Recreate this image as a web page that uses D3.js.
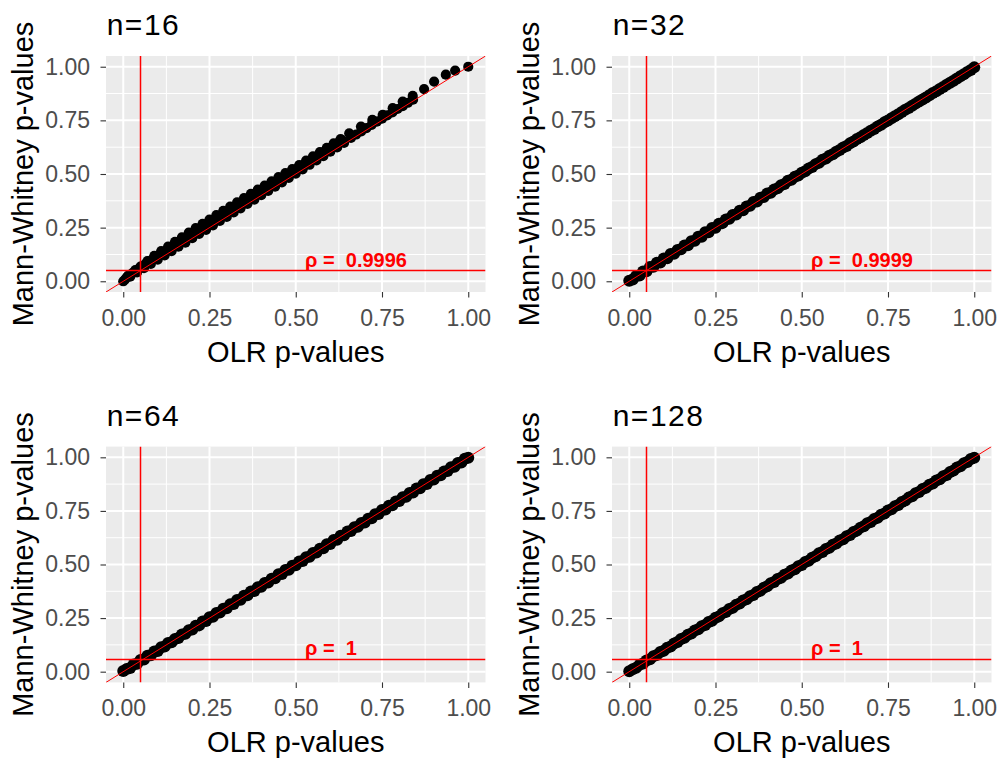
<!DOCTYPE html>
<html>
<head>
<meta charset="utf-8">
<script src="https://cdn.jsdelivr.net/npm/d3@7"></script>
<style>
  html, body { margin: 0; padding: 0; background: #fff; }
  svg { display: block; }
</style>
</head>
<body>
<svg id="chart" width="1001" height="760"></svg>
<script>
// ---------------- data ----------------
const panelTitles = ["n=16", "n=32", "n=64", "n=128"];
const rhoLabels = ["ρ =  0.9996", "ρ =  0.9999", "ρ =  1", "ρ =  1"];
const tickValues = [0, 0.25, 0.5, 0.75, 1];
const tickLabels = ["0.00", "0.25", "0.50", "0.75", "1.00"];
const minorBreaks = [0.125, 0.375, 0.625, 0.875];
const xTitle = "OLR p-values";
const yTitle = "Mann-Whitney p-values";
const cutoffX = [0.05, 0.05, 0.05, 0.05];
const cutoffY = [0.05, 0.05, 0.057, 0.057];

// n = 16 (OLR p-values, Mann-Whitney p-values)
const olr16 = [
  0.00,0.01,0.02,0.03,0.04,0.05,0.06,0.07,0.08,0.09,
  0.10,0.11,0.12,0.13,0.14,0.15,0.16,0.17,0.18,0.19,
  0.20,0.21,0.22,0.23,0.24,0.25,0.26,0.27,0.28,0.29,
  0.30,0.31,0.32,0.33,0.34,0.35,0.36,0.37,0.38,0.39,
  0.40,0.41,0.42,0.43,0.44,0.45,0.46,0.47,0.48,0.49,
  0.50,0.51,0.52,0.53,0.54,0.55,0.56,0.57,0.58,0.59,
  0.60,0.61,0.62,0.63,0.64,
  0.005,0.015,0.025,0.035,0.045,0.055,0.065,0.075,0.085,0.095,
  0.105,0.115,0.125,0.135,0.145,0.155,0.165,0.175,0.185,0.195,
  0.205,0.215,0.225,0.235,0.245,0.255,0.265,0.275,0.285,0.295,
  0.305,0.315,0.325,0.335,0.345,0.355,0.365,0.375,0.385,0.395,
  0.405,0.415,0.425,0.435,0.445,0.455,0.465,0.475,0.485,0.495,
  0.505,0.515,0.525,0.535,0.545,0.555,0.565,0.575,0.585,0.595,
  0.605,0.615,0.625,0.635,
  0.66,0.675,0.69,0.705,0.72,0.735,0.75,0.765,0.78,0.795,0.81,0.825,0.84,
  0.655,0.689,0.722,0.752,0.781,0.810,0.839,0.872,0.901,0.935,0.962,1.000
];
const mw16 = [
  0.000,0.018,0.021,0.042,0.041,0.068,0.061,0.094,0.081,0.118,
  0.101,0.141,0.121,0.162,0.140,0.184,0.161,0.205,0.180,0.227,
  0.201,0.248,0.221,0.268,0.240,0.288,0.261,0.308,0.281,0.328,
  0.300,0.348,0.321,0.368,0.340,0.388,0.361,0.407,0.381,0.427,
  0.401,0.446,0.421,0.466,0.441,0.485,0.461,0.504,0.482,0.523,
  0.502,0.542,0.522,0.562,0.543,0.582,0.563,0.602,0.583,0.622,
  0.604,0.643,0.624,0.663,0.645,
  0.008,0.027,0.036,0.052,0.058,0.071,0.081,0.094,0.102,0.114,
  0.124,0.135,0.144,0.155,0.165,0.175,0.185,0.196,0.205,0.216,
  0.226,0.236,0.246,0.256,0.266,0.276,0.286,0.296,0.306,0.316,
  0.326,0.336,0.346,0.356,0.366,0.376,0.386,0.396,0.406,0.416,
  0.426,0.436,0.446,0.456,0.466,0.476,0.486,0.496,0.506,0.516,
  0.526,0.536,0.546,0.556,0.566,0.576,0.586,0.596,0.606,0.616,
  0.626,0.636,0.647,0.657,
  0.668,0.684,0.699,0.714,0.729,0.744,0.758,0.773,0.787,0.803,0.816,0.832,0.846,
  0.690,0.721,0.752,0.776,0.807,0.838,0.864,0.896,0.931,0.963,0.982,1.000
];

// n = 32, 64, 128 share the OLR p-value grid
const olrP = [
  0.00,0.01,0.02,0.03,0.04,0.05,0.06,0.07,0.08,0.09,
  0.10,0.11,0.12,0.13,0.14,0.15,0.16,0.17,0.18,0.19,
  0.20,0.21,0.22,0.23,0.24,0.25,0.26,0.27,0.28,0.29,
  0.30,0.31,0.32,0.33,0.34,0.35,0.36,0.37,0.38,0.39,
  0.40,0.41,0.42,0.43,0.44,0.45,0.46,0.47,0.48,0.49,
  0.50,0.51,0.52,0.53,0.54,0.55,0.56,0.57,0.58,0.59,
  0.60,0.61,0.62,0.63,0.64,0.65,0.66,0.67,0.68,0.69,
  0.70,0.71,0.72,0.73,0.74,0.75,0.76,0.77,0.78,0.79,
  0.80,0.81,0.82,0.83,0.84,0.85,0.86,0.87,0.88,0.89,
  0.90,0.91,0.92,0.93,0.94,0.95,0.96,0.97,0.98,0.99,
  1.00
];
const mw32 = [
  0.002,0.008,0.025,0.027,0.046,0.047,0.066,0.068,0.086,0.088,
  0.106,0.107,0.127,0.128,0.146,0.149,0.167,0.168,0.187,0.189,
  0.208,0.208,0.228,0.229,0.248,0.250,0.268,0.271,0.288,0.291,
  0.309,0.311,0.329,0.331,0.349,0.352,0.369,0.372,0.389,0.393,
  0.409,0.413,0.428,0.433,0.448,0.453,0.468,0.473,0.487,0.493,
  0.506,0.513,0.526,0.533,0.546,0.552,0.566,0.572,0.585,0.592,
  0.604,0.612,0.624,0.631,0.643,0.651,0.663,0.671,0.682,0.691,
  0.702,0.710,0.721,0.730,0.741,0.749,0.760,0.769,0.779,0.789,
  0.799,0.808,0.818,0.828,0.838,0.847,0.857,0.867,0.877,0.886,
  0.896,0.906,0.916,0.925,0.935,0.945,0.956,0.965,0.976,0.985,
  0.997
];
const mw64 = [
  0.003,0.012,0.017,0.034,0.037,0.054,0.057,0.074,0.077,0.094,
  0.097,0.114,0.117,0.134,0.137,0.153,0.157,0.174,0.177,0.193,
  0.197,0.214,0.216,0.234,0.236,0.254,0.256,0.274,0.276,0.294,
  0.296,0.314,0.316,0.334,0.336,0.354,0.356,0.374,0.376,0.394,
  0.396,0.414,0.416,0.434,0.436,0.454,0.456,0.474,0.476,0.494,
  0.496,0.514,0.516,0.534,0.536,0.554,0.556,0.574,0.576,0.594,
  0.596,0.614,0.616,0.634,0.636,0.654,0.656,0.674,0.676,0.694,
  0.696,0.714,0.716,0.734,0.736,0.754,0.756,0.774,0.776,0.794,
  0.796,0.814,0.816,0.834,0.836,0.854,0.856,0.874,0.876,0.894,
  0.896,0.914,0.916,0.934,0.936,0.954,0.956,0.974,0.976,0.993,
  0.998
];
const mw128 = [
  0.002,0.011,0.018,0.032,0.038,0.052,0.058,0.072,0.078,0.092,
  0.098,0.112,0.118,0.132,0.138,0.152,0.158,0.172,0.178,0.192,
  0.198,0.212,0.218,0.232,0.238,0.252,0.258,0.272,0.278,0.292,
  0.298,0.312,0.318,0.332,0.338,0.352,0.358,0.372,0.378,0.392,
  0.398,0.412,0.418,0.432,0.438,0.452,0.458,0.472,0.478,0.492,
  0.498,0.512,0.518,0.532,0.538,0.552,0.558,0.572,0.578,0.592,
  0.598,0.612,0.618,0.632,0.638,0.652,0.658,0.672,0.678,0.692,
  0.698,0.712,0.718,0.732,0.738,0.752,0.758,0.772,0.778,0.792,
  0.798,0.812,0.818,0.832,0.838,0.852,0.858,0.872,0.878,0.892,
  0.898,0.912,0.918,0.932,0.938,0.952,0.958,0.972,0.978,0.992,
  0.998
];

// ---------------- drawing ----------------
const FONT = "'Liberation Sans', Arial, Helvetica, sans-serif";
const svg = d3.select("#chart");
svg.append("rect").attr("width", 1001).attr("height", 760).attr("fill", "#ffffff");

const defs = svg.append("defs");
defs.append("filter").attr("id", "soft").attr("x", "-5%").attr("y", "-5%")
  .attr("width", "110%").attr("height", "110%")
  .append("feGaussianBlur").attr("stdDeviation", 0.6);

const layout = [
  { left: 106, right: 485.5, top: 56, bottom: 292 },
  { left: 612, right: 991.5, top: 56, bottom: 292 },
  { left: 106, right: 485.5, top: 446.6, bottom: 682.4 },
  { left: 612, right: 991.5, top: 446.6, bottom: 682.4 }
];
const panels = [
  { xs: olr16, ys: mw16, r: 5.1 },
  { xs: olrP, ys: mw32, r: 6 },
  { xs: olrP, ys: mw64, r: 6 },
  { xs: olrP, ys: mw128, r: 6 }
];
const rhoPos = [[0.527, 0.067], [0.527, 0.067], [0.527, 0.076], [0.527, 0.076]];

panels.forEach((p, i) => {
  const L = layout[i];
  const x = d3.scaleLinear().domain([-0.05, 1.05]).range([L.left, L.right]);
  const y = d3.scaleLinear().domain([-0.05, 1.05]).range([L.bottom, L.top]);
  const g = svg.append("g");

  const clipId = "clip" + i;
  defs.append("clipPath").attr("id", clipId)
    .append("rect").attr("x", L.left).attr("y", L.top)
    .attr("width", L.right - L.left).attr("height", L.bottom - L.top);

  // panel background
  g.append("rect").attr("x", L.left).attr("y", L.top)
    .attr("width", L.right - L.left).attr("height", L.bottom - L.top)
    .attr("fill", "#EBEBEB");

  // grid lines
  const grid = g.append("g");
  minorBreaks.forEach(v => {
    grid.append("line").attr("x1", x(v)).attr("x2", x(v)).attr("y1", L.top).attr("y2", L.bottom)
      .attr("stroke", "#fff").attr("stroke-width", 1);
    grid.append("line").attr("y1", y(v)).attr("y2", y(v)).attr("x1", L.left).attr("x2", L.right)
      .attr("stroke", "#fff").attr("stroke-width", 1);
  });
  tickValues.forEach(v => {
    grid.append("line").attr("x1", x(v)).attr("x2", x(v)).attr("y1", L.top).attr("y2", L.bottom)
      .attr("stroke", "#fff").attr("stroke-width", 2);
    grid.append("line").attr("y1", y(v)).attr("y2", y(v)).attr("x1", L.left).attr("x2", L.right)
      .attr("stroke", "#fff").attr("stroke-width", 2);
  });

  // points
  const pts = p.xs.map((v, k) => ({ x: v, y: p.ys[k] }));
  g.append("g").attr("clip-path", `url(#${clipId})`)
    .append("g").attr("filter", "url(#soft)")
    .selectAll("circle").data(pts).join("circle")
    .attr("cx", d => x(d.x)).attr("cy", d => y(d.y)).attr("r", p.r)
    .attr("fill", "#000");

  // reference lines
  const ref = g.append("g").attr("clip-path", `url(#${clipId})`);
  ref.append("line").attr("x1", x(cutoffX[i])).attr("x2", x(cutoffX[i]))
    .attr("y1", L.top).attr("y2", L.bottom).attr("stroke", "#FF0000").attr("stroke-width", 1.5);
  ref.append("line").attr("x1", L.left).attr("x2", L.right)
    .attr("y1", y(cutoffY[i])).attr("y2", y(cutoffY[i])).attr("stroke", "#FF0000").attr("stroke-width", 1.5);
  ref.append("line").attr("x1", x(-0.05)).attr("y1", y(-0.05)).attr("x2", x(1.05)).attr("y2", y(1.05))
    .attr("stroke", "#FF0000").attr("stroke-width", 1);

  // rho annotation
  g.append("text").attr("x", x(rhoPos[i][0])).attr("y", y(rhoPos[i][1]))
    .attr("fill", "#FF0000").attr("font-family", FONT).attr("font-weight", "bold")
    .attr("font-size", 20).style("white-space", "pre").text(rhoLabels[i]);

  // axes
  const xa = g.append("g").attr("transform", `translate(0,${L.bottom})`)
    .call(d3.axisBottom(x).tickValues(tickValues).tickFormat((d, k) => tickLabels[k])
      .tickSize(5.5).tickPadding(12));
  const ya = g.append("g").attr("transform", `translate(${L.left},0)`)
    .call(d3.axisLeft(y).tickValues(tickValues).tickFormat((d, k) => tickLabels[k])
      .tickSize(5.5).tickPadding(10.5));
  [xa, ya].forEach(a => {
    a.select(".domain").remove();
    a.attr("font-family", FONT).attr("font-size", 23);
    a.selectAll(".tick line").attr("stroke", "#333333").attr("stroke-width", 1.1);
    a.selectAll(".tick text").attr("fill", "#4D4D4D");
  });

  // axis titles
  g.append("text").attr("x", (L.left + L.right) / 2).attr("y", L.bottom + 70)
    .attr("text-anchor", "middle").attr("font-family", FONT).attr("font-size", 29)
    .attr("fill", "#000").text(xTitle);
  g.append("text")
    .attr("transform", `translate(${L.left - 73},${(L.top + L.bottom) / 2}) rotate(-90)`)
    .attr("text-anchor", "middle").attr("font-family", FONT).attr("font-size", 29)
    .attr("fill", "#000").text(yTitle);

  // panel title
  g.append("text").attr("x", L.left + 0.7).attr("y", L.top - 21)
    .attr("font-family", FONT).attr("font-size", 30).attr("letter-spacing", 1.5)
    .attr("fill", "#000").text(panelTitles[i]);
});
</script>
</body>
</html>
